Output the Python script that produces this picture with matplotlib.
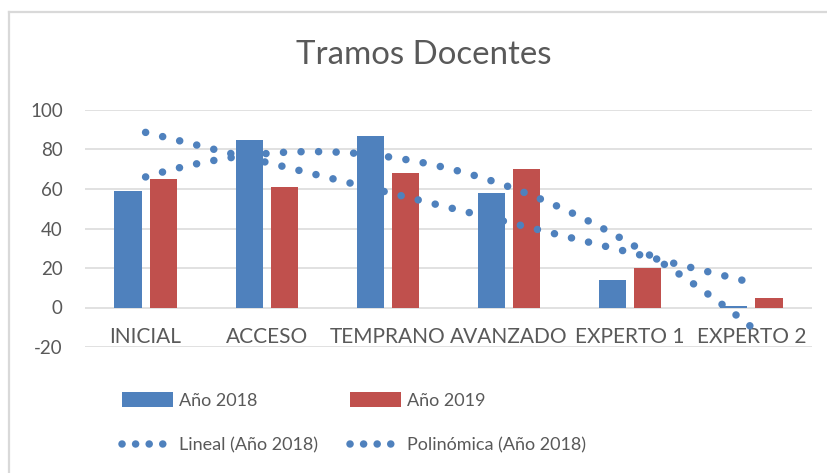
import numpy as np
import matplotlib
matplotlib.use("Agg")
import matplotlib.pyplot as plt
from matplotlib.lines import Line2D
from matplotlib.patches import Patch

categories = ["INICIAL", "ACCESO", "TEMPRANO", "AVANZADO", "EXPERTO 1", "EXPERTO 2"]
anio_2018 = [59, 85, 87, 58, 14, 1]
anio_2019 = [65, 61, 68, 70, 20, 5]
yticks = [-20, 0, 20, 40, 60, 80, 100]

BLUE = "#4f81bd"
RED = "#c0504d"
TXT = "#595959"
GRID = "#d9d9d9"

plt.rcParams['font.family'] = ['Lato', 'DejaVu Sans']

W, H = 828, 473
fig = plt.figure(figsize=(W / 100, H / 100), dpi=100)
ax = fig.add_axes([85 / W, 1 - 347 / H, (812 - 85) / W, (347 - 110) / H])

x = np.arange(len(categories))
bw = 0.225
off = 0.145
ax.bar(x - off, anio_2018, bw, color=BLUE, zorder=2)
ax.bar(x + off, anio_2019, bw, color=RED, zorder=2)

# trendlines fitted to 2018 data (Excel x = 1..n)
xe = x + 1
lin = np.polyfit(xe, anio_2018, 1)
poly = np.polyfit(xe, anio_2018, 2)
xs = np.linspace(0, len(categories) - 1, 400)
dot_style = dict(color=BLUE, lw=5.4, linestyle=(0, (0.01, 2.33)),
                 dash_capstyle='round', zorder=3)
ax.plot(xs, np.polyval(lin, xs + 1), **dot_style)
ax.plot(xs, np.polyval(poly, xs + 1), **dot_style)

ax.set_xlim(-0.5, len(categories) - 0.5)
ax.set_ylim(-20, 100)
ax.set_yticks(yticks)
ax.set_yticklabels([str(v) for v in yticks])
ax.yaxis.grid(True, color=GRID, lw=1.1, zorder=0)
ax.set_axisbelow(True)
for s in ax.spines.values():
    s.set_visible(False)
ax.spines['bottom'].set_position(('data', 0))
ax.set_xticks(x)
ax.set_xticklabels(categories)
ax.tick_params(axis='x', length=0, pad=14, labelsize=15, labelcolor=TXT)
ax.tick_params(axis='y', length=0, pad=16, labelsize=13.5, labelcolor=TXT)

fig.text(424 / W, 1 - 55 / H, "Tramos Docentes", ha='center', va='center',
         fontsize=23.8, color=TXT)

leg_line = dict(color=BLUE, lw=5.4, linestyle=(0, (0.01, 1.8)), dash_capstyle='round')
handles = [
    Patch(facecolor=BLUE, edgecolor='none'),
    Line2D([0], [0], **leg_line),
    Patch(facecolor=RED, edgecolor='none'),
    Line2D([0], [0], **leg_line),
]
labels = ["Año 2018", "Lineal (Año 2018)", "Año 2019", "Polinómica (Año 2018)"]
leg = fig.legend(handles, labels, ncol=2, loc='center left',
                 bbox_to_anchor=(122 / W, 1 - 423 / H), frameon=False,
                 fontsize=13, handlelength=2.82, handleheight=0.85,
                 handletextpad=0.35, columnspacing=1.75, labelspacing=1.6,
                 borderpad=0, borderaxespad=0)
for t in leg.get_texts():
    t.set_color(TXT)

# chart frame (cropped screenshot: only top and left edges visible)
fig.add_artist(Line2D([9 / W, 9 / W], [0, 1 - 12 / H], color=GRID, lw=1.6,
                      transform=fig.transFigure))
fig.add_artist(Line2D([9 / W, 1], [1 - 12 / H, 1 - 12 / H], color=GRID, lw=1.6,
                      transform=fig.transFigure))

fig.savefig("out.png", dpi=100)
